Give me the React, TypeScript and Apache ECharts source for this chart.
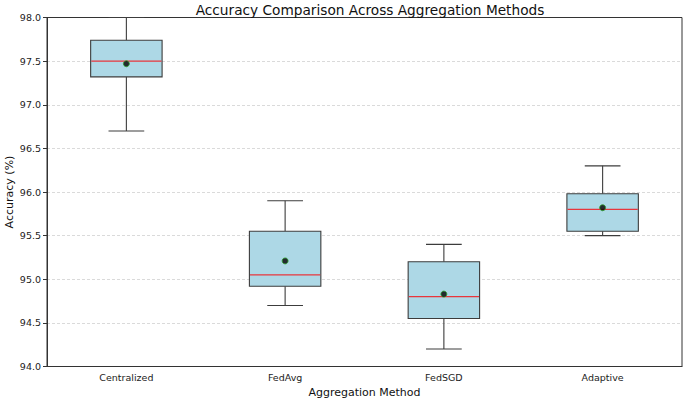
import React, { useEffect, useRef } from "react";
import * as echarts from "echarts";

const categories = ["Centralized", "FedAvg", "FedSGD", "Adaptive"];
const whiskerLow = [96.7, 94.7, 94.2, 95.5];
const q1Values = [97.32, 94.92, 94.55, 95.55];
const medians = [97.5, 95.05, 94.8, 95.8];
const q3Values = [97.74, 95.55, 95.2, 95.98];
const whiskerHigh = [98.0, 95.9, 95.4, 96.3];
const means = [97.47, 95.21, 94.83, 95.82];
const yTicks = [94.0, 94.5, 95.0, 95.5, 96.0, 96.5, 97.0, 97.5, 98.0];

const FONT = "DejaVu Sans";
const EDGE = "#3c3c3c";

export default function App() {
  const ref = useRef<HTMLDivElement>(null);
  useEffect(() => {
    if (!ref.current) return;
    document.body.style.margin = "0";
    const chart = echarts.init(ref.current, null, { renderer: "svg" });
    const boxData = categories.map((_, i) => [
      i,
      whiskerLow[i],
      q1Values[i],
      medians[i],
      q3Values[i],
      whiskerHigh[i],
    ]);
    chart.setOption({
      animation: false,
      backgroundColor: "#ffffff",
      title: {
        text: "Accuracy Comparison Across Aggregation Methods",
        left: 365,
        textAlign: "center",
        top: -2,
        textStyle: { fontFamily: FONT, fontSize: 13.7, fontWeight: "normal", color: "#111" },
      },
      grid: {
        left: 47,
        right: 3,
        top: 17.5,
        bottom: 35.5,
        outerBoundsMode: "none",
        containLabel: false,
        show: true,
        borderColor: "#333",
        borderWidth: 1,
        backgroundColor: "transparent",
      },
      xAxis: {
        type: "category",
        data: categories,
        name: "Aggregation Method",
        nameLocation: "middle",
        nameGap: 20,
        nameMoveOverlap: false,
        nameTextStyle: { fontFamily: FONT, fontSize: 11, color: "#111" },
        axisLine: { lineStyle: { color: "#333", width: 1 } },
        axisTick: { alignWithLabel: true, length: 4, lineStyle: { color: "#333" } },
        axisLabel: { fontFamily: FONT, fontSize: 9.5, color: "#222", margin: 6 },
        splitLine: { show: false },
      },
      yAxis: {
        type: "value",
        min: 94,
        max: 98,
        interval: 0.5,
        name: "Accuracy (%)",
        nameLocation: "middle",
        nameGap: 32,
        nameMoveOverlap: false,
        nameTextStyle: { fontFamily: FONT, fontSize: 11, color: "#111" },
        axisLine: { show: true, lineStyle: { color: "#333", width: 1 } },
        axisTick: { show: true, length: 4, lineStyle: { color: "#333" } },
        axisLabel: {
          fontFamily: FONT,
          fontSize: 9.5,
          color: "#222",
          margin: 6,
          formatter: (v: number) => {
            const t = yTicks.find((x) => Math.abs(x - v) < 1e-6);
            return (t !== undefined ? t : v).toFixed(1);
          },
        },
        splitLine: {
          show: true,
          showMinLine: false,
          showMaxLine: false,
          lineStyle: { color: "#d0d0d0", type: [3, 2], width: 0.8 },
        },
      },
      series: [
        {
          type: "custom",
          data: boxData,
          encode: { x: 0, y: [1, 2, 3, 4, 5] },
          renderItem: (params: any, api: any) => {
            const idx = api.value(0);
            const lo = api.coord([idx, api.value(1)]);
            const q1 = api.coord([idx, api.value(2)]);
            const md = api.coord([idx, api.value(3)]);
            const q3 = api.coord([idx, api.value(4)]);
            const hi = api.coord([idx, api.value(5)]);
            const band = api.size([1, 0])[0];
            const bw = band * 0.45;
            const cw = bw / 2;
            const cx = lo[0];
            const lineStyle = { stroke: EDGE, lineWidth: 1.1, fill: null };
            return {
              type: "group",
              children: [
                { type: "line", shape: { x1: cx, y1: q1[1], x2: cx, y2: lo[1] }, style: lineStyle },
                { type: "line", shape: { x1: cx, y1: q3[1], x2: cx, y2: hi[1] }, style: lineStyle },
                { type: "line", shape: { x1: cx - cw / 2, y1: lo[1], x2: cx + cw / 2, y2: lo[1] }, style: lineStyle },
                { type: "line", shape: { x1: cx - cw / 2, y1: hi[1], x2: cx + cw / 2, y2: hi[1] }, style: lineStyle },
                {
                  type: "rect",
                  shape: { x: cx - bw / 2, y: q3[1], width: bw, height: q1[1] - q3[1] },
                  style: { fill: "#add8e6", stroke: EDGE, lineWidth: 1.1 },
                },
                {
                  type: "line",
                  shape: { x1: cx - bw / 2 + 0.6, y1: md[1], x2: cx + bw / 2 - 0.6, y2: md[1] },
                  style: { stroke: "#e8363d", lineWidth: 1.3 },
                },
              ],
            };
          },
          z: 2,
        },
        {
          type: "scatter",
          data: categories.map((c, i) => [i, means[i]]),
          symbol: "circle",
          symbolSize: 6,
          itemStyle: { color: "#000000", borderColor: "#2ca02c", borderWidth: 1 },
          z: 3,
        },
      ],
    });
    return () => chart.dispose();
  }, []);
  return <div ref={ref} style={{ width: 685, height: 402 }} />;
}
